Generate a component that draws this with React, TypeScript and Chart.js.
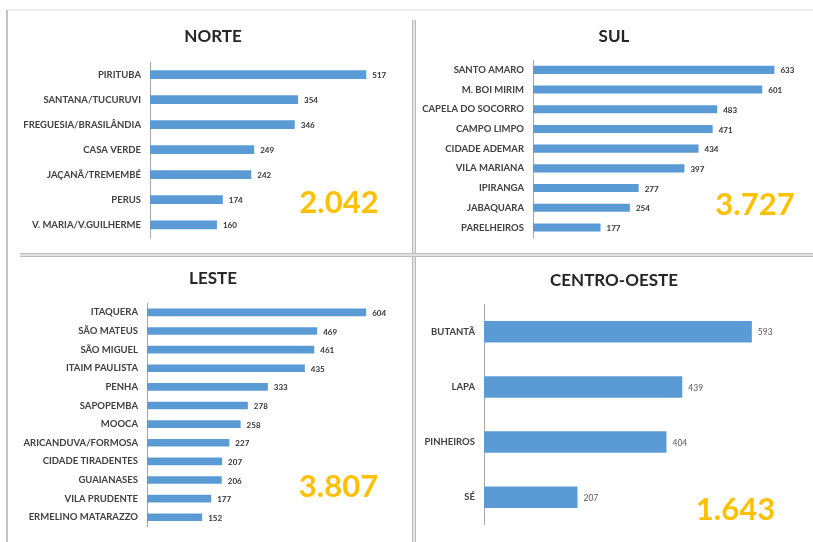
import React, { useEffect, useRef } from "react";
import { Chart, registerables } from "chart.js";

Chart.register(...registerables);

// ---------- DATA ----------
const norteLabels = ["PIRITUBA", "SANTANA/TUCURUVI", "FREGUESIA/BRASILÂNDIA", "CASA VERDE", "JAÇANÃ/TREMEMBÉ", "PERUS", "V. MARIA/V.GUILHERME"];
const norteValues = [517, 354, 346, 249, 242, 174, 160];
const norteTotal = "2.042";

const sulLabels = ["SANTO AMARO", "M. BOI MIRIM", "CAPELA DO SOCORRO", "CAMPO LIMPO", "CIDADE ADEMAR", "VILA MARIANA", "IPIRANGA", "JABAQUARA", "PARELHEIROS"];
const sulValues = [633, 601, 483, 471, 434, 397, 277, 254, 177];
const sulTotal = "3.727";

const lesteLabels = ["ITAQUERA", "SÃO MATEUS", "SÃO MIGUEL", "ITAIM PAULISTA", "PENHA", "SAPOPEMBA", "MOOCA", "ARICANDUVA/FORMOSA", "CIDADE TIRADENTES", "GUAIANASES", "VILA PRUDENTE", "ERMELINO MATARAZZO"];
const lesteValues = [604, 469, 461, 435, 333, 278, 258, 227, 207, 206, 177, 152];
const lesteTotal = "3.807";

const coLabels = ["BUTANTÃ", "LAPA", "PINHEIROS", "SÉ"];
const coValues = [593, 439, 404, 207];
const coTotal = "1.643";

// ---------- STYLE ----------
const FONT = "Lato, 'Open Sans', 'DejaVu Sans', sans-serif";
const BAR = "#5B9BD5";
const GOLD = "#FFC000";

type PanelProps = {
  title: string;
  labels: string[];
  values: number[];
  total: string;
  left: number;
  top: number;
  width: number;
  height: number;
  axisX: number;
  xMax: number;
  padRight: number;
  padTop: number;
  padBottom: number;
  titleX: number;
  titleY: number;
  barPct: number;
  totalX: number;
  totalY: number;
  valueBold: boolean;
  valueColor: string;
  valueSize: number;
  labelSize: number;
};

function Panel(p: PanelProps) {
  const ref = useRef<HTMLCanvasElement | null>(null);
  useEffect(() => {
    if (!ref.current) return;
    const valuePlugin = {
      id: "valueLabels",
      afterDatasetsDraw(chart: any) {
        const ctx = chart.ctx;
        const meta = chart.getDatasetMeta(0);
        ctx.save();
        ctx.font = `${p.valueBold ? "bold " : ""}${p.valueSize}px ${FONT}`;
        ctx.fillStyle = p.valueColor;
        ctx.textAlign = "left";
        ctx.textBaseline = "middle";
        meta.data.forEach((el: any, i: number) => {
          ctx.fillText(String(p.values[i]), el.x + 6, el.y + 1);
        });
        ctx.restore();
      },
    };
    const textPlugin = {
      id: "panelTexts",
      afterDraw(chart: any) {
        const ctx = chart.ctx;
        ctx.save();
        ctx.textAlign = "center";
        ctx.textBaseline = "middle";
        ctx.font = `bold 17px ${FONT}`;
        ctx.fillStyle = "#262626";
        ctx.fillText(p.title, p.titleX, p.titleY);
        ctx.font = `bold 31px ${FONT}`;
        ctx.fillStyle = GOLD;
        ctx.fillText(p.total, p.totalX, p.totalY);
        ctx.restore();
      },
    };
    const chart = new Chart(ref.current, {
      type: "bar",
      data: {
        labels: p.labels,
        datasets: [
          {
            data: p.values,
            backgroundColor: BAR,
            borderWidth: 0,
            categoryPercentage: 1,
            barPercentage: p.barPct,
          },
        ],
      },
      options: {
        indexAxis: "y",
        responsive: false,
        animation: false,
        layout: { padding: { left: 0, right: p.padRight, top: p.padTop, bottom: p.padBottom } },
        plugins: {
          legend: { display: false },
          tooltip: { enabled: false },
          title: { display: false },
        },
        scales: {
          x: { display: false, min: 0, max: p.xMax },
          y: {
            grid: { display: false, drawTicks: false },
            border: { display: true, color: "#a6a6a6", width: 1 },
            ticks: {
              autoSkip: false,
              padding: 9,
              color: "#404040",
              font: { family: FONT, size: p.labelSize, weight: "bold" },
            },
            afterFit: (scale: any) => {
              scale.width = p.axisX;
            },
          },
        },
      },
      plugins: [valuePlugin, textPlugin],
    } as any);
    return () => chart.destroy();
  }, []);
  return (
    <canvas
      ref={ref}
      width={p.width}
      height={p.height}
      style={{ position: "absolute", left: p.left, top: p.top, width: p.width, height: p.height }}
    />
  );
}

function Line(props: { left: number; top: number; width: number; height: number; color: string }) {
  return (
    <div
      style={{
        position: "absolute",
        left: props.left,
        top: props.top,
        width: props.width,
        height: props.height,
        background: props.color,
      }}
    />
  );
}

export default function App() {
  return (
    <div
      style={{
        position: "fixed",
        left: 0,
        top: 0,
        width: 813,
        height: 542,
        background: "#ffffff",
        overflow: "hidden",
      }}
    >
      {/* spreadsheet frame lines */}
      <Line left={8} top={9} width={805} height={2} color="#efefef" />
      <Line left={6} top={10} width={2} height={532} color="#c4c4c4" />
      <Line left={412} top={20} width={1} height={522} color="#bdbdbd" />
      <Line left={413} top={20} width={2} height={522} color="#e2e2e2" />
      <Line left={415} top={20} width={1} height={522} color="#bdbdbd" />
      <Line left={20} top={253} width={793} height={1} color="#bdbdbd" />
      <Line left={20} top={254} width={793} height={2} color="#e2e2e2" />
      <Line left={20} top={256} width={793} height={1} color="#bdbdbd" />

      <Panel
        title="NORTE"
        labels={norteLabels}
        values={norteValues}
        total={norteTotal}
        left={9}
        top={12}
        width={402}
        height={240}
        axisX={141}
        xMax={600}
        padRight={10}
        padTop={50}
        padBottom={10.5}
        titleX={204}
        titleY={25}
        barPct={0.35}
        totalX={330}
        totalY={191}
        valueBold={true}
        valueColor="#333333"
        valueSize={8}
        labelSize={9.5}
      />
      <Panel
        title="SUL"
        labels={sulLabels}
        values={sulValues}
        total={sulTotal}
        left={418}
        top={12}
        width={395}
        height={240}
        axisX={115}
        xMax={700}
        padRight={13}
        padTop={48}
        padBottom={11.2}
        titleX={196}
        titleY={25}
        barPct={0.41}
        totalX={337}
        totalY={193}
        valueBold={true}
        valueColor="#333333"
        valueSize={8}
        labelSize={9.5}
      />
      <Panel
        title="LESTE"
        labels={lesteLabels}
        values={lesteValues}
        total={lesteTotal}
        left={9}
        top={258}
        width={402}
        height={284}
        axisX={138}
        xMax={700}
        padRight={10}
        padTop={45}
        padBottom={15.4}
        titleX={204}
        titleY={21}
        barPct={0.41}
        totalX={329.5}
        totalY={229}
        valueBold={true}
        valueColor="#333333"
        valueSize={8}
        labelSize={9.5}
      />
      <Panel
        title="CENTRO-OESTE"
        labels={coLabels}
        values={coValues}
        total={coTotal}
        left={418}
        top={258}
        width={395}
        height={284}
        axisX={66}
        xMax={600}
        padRight={58}
        padTop={46.1}
        padBottom={17.1}
        titleX={196}
        titleY={23}
        barPct={0.39}
        totalX={317.5}
        totalY={252}
        valueBold={false}
        valueColor="#595959"
        valueSize={8.5}
        labelSize={9.5}
      />
    </div>
  );
}
